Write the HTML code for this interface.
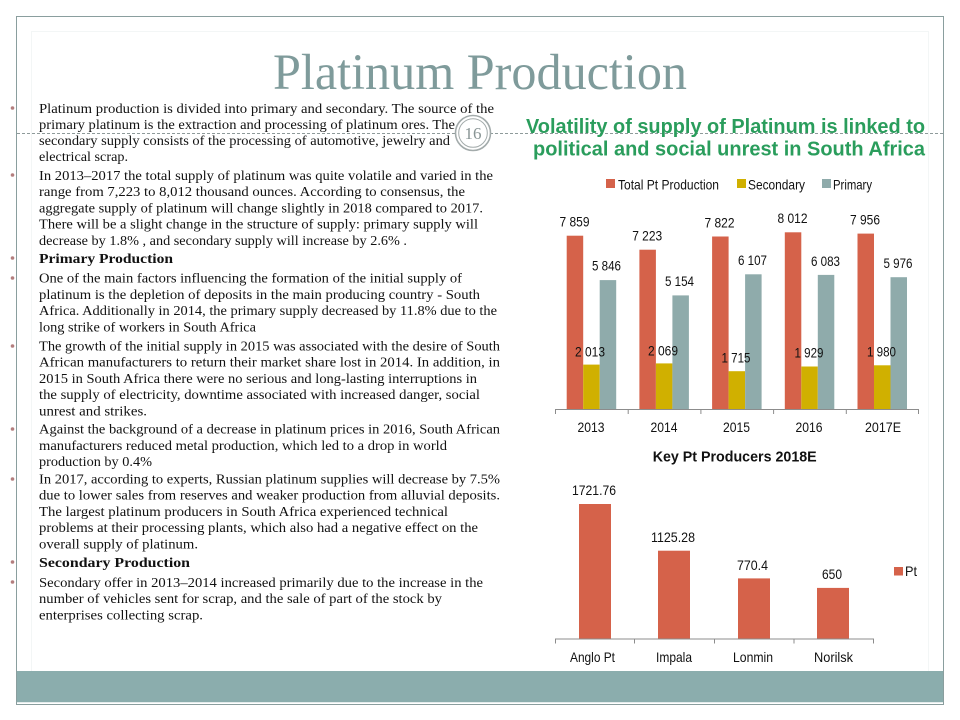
<!DOCTYPE html>
<html>
<head>
<meta charset="utf-8">
<style>
  html,body{margin:0;padding:0;background:#fff;}
  svg{display:block;}
  .body{font-family:"Liberation Serif",serif;font-size:14px;fill:#111;}
  .bold{font-weight:bold;}
  .ch{font-family:"Liberation Sans",Arial,sans-serif;font-size:14px;fill:#111;}
</style>
</head>
<body>
<svg width="960" height="720" viewBox="0 0 960 720" xmlns="http://www.w3.org/2000/svg">
  <rect x="0" y="0" width="960" height="720" fill="#fff"/>
  <!-- frame -->
  <rect x="16.5" y="16.5" width="927" height="688" fill="none" stroke="#8a9e9e" stroke-width="1"/>
  <rect x="31.5" y="31.5" width="897" height="640" fill="none" stroke="#f3f6f6" stroke-width="1"/>
  <!-- bottom bar -->
  <rect x="17" y="671" width="926" height="31" fill="#8badad"/>
  <line x1="17" y1="702.5" x2="943" y2="702.5" stroke="#e4ecec" stroke-width="1"/>

  <!-- Title -->
  <text x="273" y="89" font-family="Liberation Serif, serif" font-size="51" fill="#7f9b9b" textLength="414" lengthAdjust="spacingAndGlyphs">Platinum Production</text>

  <!-- dashed divider -->
  <line x1="17" y1="133.5" x2="456" y2="133.5" stroke="#8e9a9a" stroke-width="1" stroke-dasharray="3,2"/>
  <line x1="490" y1="133.5" x2="943" y2="133.5" stroke="#8e9a9a" stroke-width="1" stroke-dasharray="3,2"/>

  <!-- Left text bullets -->
  <g fill="#b37e7e">
    <circle cx="12.5" cy="108" r="1.8"/>
    <circle cx="12.5" cy="175" r="1.8"/>
    <circle cx="12.5" cy="258" r="1.8"/>
    <circle cx="12.5" cy="278" r="1.8"/>
    <circle cx="12.5" cy="346" r="1.8"/>
    <circle cx="12.5" cy="429" r="1.8"/>
    <circle cx="12.5" cy="479" r="1.8"/>
    <circle cx="12.5" cy="562" r="1.8"/>
    <circle cx="12.5" cy="582" r="1.8"/>
  </g>

  <g class="body">
    <text x="39" y="113" textLength="455" lengthAdjust="spacingAndGlyphs">Platinum production is divided into primary and secondary. The source of the</text>
    <text x="39" y="129" textLength="416" lengthAdjust="spacingAndGlyphs">primary platinum is the extraction and processing of platinum ores. The</text>
    <text x="39" y="145" textLength="411" lengthAdjust="spacingAndGlyphs">secondary supply consists of the processing of automotive, jewelry and</text>
    <text x="39" y="161" textLength="89" lengthAdjust="spacingAndGlyphs">electrical scrap.</text>

    <text x="39" y="180" textLength="454" lengthAdjust="spacingAndGlyphs">In 2013–2017 the total supply of platinum was quite volatile and varied in the</text>
    <text x="39" y="196.2" textLength="426" lengthAdjust="spacingAndGlyphs">range from  7,223 to 8,012 thousand ounces. According to consensus, the</text>
    <text x="39" y="212.4" textLength="444" lengthAdjust="spacingAndGlyphs">aggregate supply of platinum will change slightly in 2018 compared to 2017.</text>
    <text x="39" y="228.6" textLength="439" lengthAdjust="spacingAndGlyphs">There will be a slight change in the structure of supply: primary supply will</text>
    <text x="39" y="244.8" textLength="368" lengthAdjust="spacingAndGlyphs">decrease by 1.8% , and secondary supply will increase by 2.6% .</text>

    <text x="39" y="263" class="bold" textLength="134" lengthAdjust="spacingAndGlyphs">Primary Production</text>

    <text x="39" y="282.7" textLength="423" lengthAdjust="spacingAndGlyphs">One of the main factors  influencing the formation of the initial supply of</text>
    <text x="39" y="298.9" textLength="441" lengthAdjust="spacingAndGlyphs">platinum is the depletion of deposits in the main producing country - South</text>
    <text x="39" y="315.1" textLength="458" lengthAdjust="spacingAndGlyphs">Africa. Additionally in 2014, the primary supply decreased by 11.8% due to the</text>
    <text x="39" y="331.3" textLength="217" lengthAdjust="spacingAndGlyphs">long strike of workers  in South Africa</text>

    <text x="39" y="350.5" textLength="461" lengthAdjust="spacingAndGlyphs">The growth of the initial supply in 2015 was associated with the desire of South</text>
    <text x="39" y="366.7" textLength="461" lengthAdjust="spacingAndGlyphs">African manufacturers to return their market share lost in  2014. In addition, in</text>
    <text x="39" y="382.9" textLength="438" lengthAdjust="spacingAndGlyphs">2015 in  South  Africa  there were no serious and long-lasting interruptions in</text>
    <text x="39" y="399.1" textLength="441" lengthAdjust="spacingAndGlyphs">the supply of electricity, downtime associated with increased danger, social</text>
    <text x="39" y="415.3" textLength="108" lengthAdjust="spacingAndGlyphs">unrest and strikes.</text>

    <text x="39" y="433.7" textLength="461" lengthAdjust="spacingAndGlyphs">Against the background of a decrease in platinum prices in 2016, South African</text>
    <text x="39" y="449.9" textLength="408" lengthAdjust="spacingAndGlyphs">manufacturers reduced metal production, which led to a drop in world</text>
    <text x="39" y="466.1" textLength="113" lengthAdjust="spacingAndGlyphs">production by 0.4%</text>

    <text x="39" y="483.5" textLength="461" lengthAdjust="spacingAndGlyphs">In 2017, according to experts, Russian platinum supplies will decrease by 7.5%</text>
    <text x="39" y="499.7" textLength="461" lengthAdjust="spacingAndGlyphs">due to lower sales from  reserves and weaker production  from alluvial deposits.</text>
    <text x="39" y="515.9" textLength="409" lengthAdjust="spacingAndGlyphs">The largest platinum producers in South  Africa  experienced technical</text>
    <text x="39" y="532.1" textLength="439" lengthAdjust="spacingAndGlyphs">problems at their processing plants, which also had a negative effect on the</text>
    <text x="39" y="548.3" textLength="159" lengthAdjust="spacingAndGlyphs">overall supply of platinum.</text>

    <text x="39" y="567" class="bold" textLength="151" lengthAdjust="spacingAndGlyphs">Secondary Production</text>

    <text x="39" y="587" textLength="444" lengthAdjust="spacingAndGlyphs">Secondary offer in  2013–2014  increased primarily due to the increase in the</text>
    <text x="39" y="603.2" textLength="403" lengthAdjust="spacingAndGlyphs">number of vehicles sent for scrap, and the sale of part of  the stock by</text>
    <text x="39" y="619.4" textLength="164" lengthAdjust="spacingAndGlyphs">enterprises collecting scrap.</text>
  </g>

  <!-- slide number circle -->
  <circle cx="473" cy="133" r="17.5" fill="#fff" stroke="#a3abab" stroke-width="1.6"/>
  <circle cx="473" cy="133" r="14.3" fill="none" stroke="#a3abab" stroke-width="1"/>
  <text x="473" y="139" text-anchor="middle" font-family="Liberation Serif, serif" font-size="17" fill="#889494">16</text>

  <!-- Chart 1 title -->
  <g font-family="Liberation Sans, Arial, sans-serif" font-weight="bold" font-size="20" fill="#2a9d5c">
    <text x="526" y="133" textLength="399" lengthAdjust="spacingAndGlyphs">Volatility of supply of Platinum is linked to</text>
    <text x="533" y="155.5" textLength="392" lengthAdjust="spacingAndGlyphs">political and social unrest in South Africa</text>
  </g>

  <!-- Chart 1 legend -->
  <rect x="606" y="179" width="9" height="9" fill="#d5624a"/>
  <text class="ch" x="618" y="189.5" textLength="101" lengthAdjust="spacingAndGlyphs">Total Pt Production</text>
  <rect x="737" y="179" width="9" height="9" fill="#d0b000"/>
  <text class="ch" x="748" y="189.5" textLength="57" lengthAdjust="spacingAndGlyphs">Secondary</text>
  <rect x="822" y="179" width="9" height="9" fill="#8fabab"/>
  <text class="ch" x="833" y="189.5" textLength="39" lengthAdjust="spacingAndGlyphs">Primary</text>

  <!-- Chart 1 bars: base 409, scale 0.02205 -->
  <g>
    <rect x="566.7" y="235.7" width="16.5" height="173.3" fill="#d5624a"/>
    <rect x="583.2" y="364.6" width="16.5" height="44.4" fill="#d0b000"/>
    <rect x="599.7" y="280.1" width="16.5" height="128.9" fill="#8fabab"/>

    <rect x="639.4" y="249.7" width="16.5" height="159.3" fill="#d5624a"/>
    <rect x="655.9" y="363.4" width="16.5" height="45.6" fill="#d0b000"/>
    <rect x="672.4" y="295.4" width="16.5" height="113.6" fill="#8fabab"/>

    <rect x="712.1" y="236.5" width="16.5" height="172.5" fill="#d5624a"/>
    <rect x="728.6" y="371.2" width="16.5" height="37.8" fill="#d0b000"/>
    <rect x="745.1" y="274.3" width="16.5" height="134.7" fill="#8fabab"/>

    <rect x="784.8" y="232.3" width="16.5" height="176.7" fill="#d5624a"/>
    <rect x="801.3" y="366.5" width="16.5" height="42.5" fill="#d0b000"/>
    <rect x="817.8" y="274.9" width="16.5" height="134.1" fill="#8fabab"/>

    <rect x="857.5" y="233.6" width="16.5" height="175.4" fill="#d5624a"/>
    <rect x="874" y="365.3" width="16.5" height="43.7" fill="#d0b000"/>
    <rect x="890.5" y="277.2" width="16.5" height="131.8" fill="#8fabab"/>
  </g>

  <!-- Chart 1 value labels -->
  <g class="ch" text-anchor="middle">
    <text x="574.5" y="226.7" textLength="30" lengthAdjust="spacingAndGlyphs">7 859</text>
    <text x="590" y="356.5" textLength="30" lengthAdjust="spacingAndGlyphs">2 013</text>
    <text x="606.5" y="270.5" textLength="29" lengthAdjust="spacingAndGlyphs">5 846</text>

    <text x="647.2" y="240.5" textLength="30" lengthAdjust="spacingAndGlyphs">7 223</text>
    <text x="663" y="355.5" textLength="30" lengthAdjust="spacingAndGlyphs">2 069</text>
    <text x="679.5" y="286" textLength="29" lengthAdjust="spacingAndGlyphs">5 154</text>

    <text x="719.5" y="227.5" textLength="30" lengthAdjust="spacingAndGlyphs">7 822</text>
    <text x="736" y="362.5" textLength="29" lengthAdjust="spacingAndGlyphs">1 715</text>
    <text x="752.5" y="265" textLength="29" lengthAdjust="spacingAndGlyphs">6 107</text>

    <text x="792.5" y="223" textLength="30" lengthAdjust="spacingAndGlyphs">8 012</text>
    <text x="809" y="357.5" textLength="29" lengthAdjust="spacingAndGlyphs">1 929</text>
    <text x="825.5" y="266" textLength="29" lengthAdjust="spacingAndGlyphs">6 083</text>

    <text x="865" y="224.5" textLength="30" lengthAdjust="spacingAndGlyphs">7 956</text>
    <text x="881.5" y="356.5" textLength="29" lengthAdjust="spacingAndGlyphs">1 980</text>
    <text x="898" y="268" textLength="29" lengthAdjust="spacingAndGlyphs">5 976</text>
  </g>

  <!-- Chart 1 axis -->
  <g stroke="#8c8c8c" stroke-width="1">
    <line x1="555" y1="409.5" x2="918.5" y2="409.5"/>
    <line x1="555.5" y1="409" x2="555.5" y2="414"/>
    <line x1="628.2" y1="409" x2="628.2" y2="414"/>
    <line x1="700.9" y1="409" x2="700.9" y2="414"/>
    <line x1="773.6" y1="409" x2="773.6" y2="414"/>
    <line x1="846.3" y1="409" x2="846.3" y2="414"/>
    <line x1="918.5" y1="409" x2="918.5" y2="414"/>
  </g>
  <g class="ch" text-anchor="middle">
    <text x="591" y="432" textLength="27" lengthAdjust="spacingAndGlyphs">2013</text>
    <text x="664" y="432" textLength="27" lengthAdjust="spacingAndGlyphs">2014</text>
    <text x="736.5" y="432" textLength="27" lengthAdjust="spacingAndGlyphs">2015</text>
    <text x="809" y="432" textLength="27" lengthAdjust="spacingAndGlyphs">2016</text>
    <text x="883" y="432" textLength="36" lengthAdjust="spacingAndGlyphs">2017E</text>
  </g>

  <!-- Chart 2 -->
  <text x="652.7" y="461.5" font-family="Liberation Sans, Arial, sans-serif" font-weight="bold" font-size="15" fill="#111" textLength="164" lengthAdjust="spacingAndGlyphs">Key Pt Producers 2018E</text>

  <rect x="579" y="504" width="32" height="134.7" fill="#d5624a"/>
  <rect x="658" y="550.7" width="32" height="88" fill="#d5624a"/>
  <rect x="738" y="578.4" width="32" height="60.3" fill="#d5624a"/>
  <rect x="817" y="587.9" width="32" height="50.8" fill="#d5624a"/>

  <g class="ch" text-anchor="middle">
    <text x="594" y="495" textLength="44" lengthAdjust="spacingAndGlyphs">1721.76</text>
    <text x="673" y="542" textLength="44" lengthAdjust="spacingAndGlyphs">1125.28</text>
    <text x="752.5" y="570" textLength="31" lengthAdjust="spacingAndGlyphs">770.4</text>
    <text x="832" y="579" textLength="20" lengthAdjust="spacingAndGlyphs">650</text>
  </g>

  <g stroke="#8c8c8c" stroke-width="1">
    <line x1="555" y1="639" x2="873.5" y2="639"/>
    <line x1="555.5" y1="638.5" x2="555.5" y2="643.5"/>
    <line x1="634.5" y1="638.5" x2="634.5" y2="643.5"/>
    <line x1="714.5" y1="638.5" x2="714.5" y2="643.5"/>
    <line x1="794" y1="638.5" x2="794" y2="643.5"/>
    <line x1="873.5" y1="638.5" x2="873.5" y2="643.5"/>
  </g>
  <g class="ch" text-anchor="middle">
    <text x="592.5" y="662" textLength="45" lengthAdjust="spacingAndGlyphs">Anglo Pt</text>
    <text x="674" y="662" textLength="36" lengthAdjust="spacingAndGlyphs">Impala</text>
    <text x="753" y="662" textLength="40" lengthAdjust="spacingAndGlyphs">Lonmin</text>
    <text x="833.5" y="662" textLength="39" lengthAdjust="spacingAndGlyphs">Norilsk</text>
  </g>

  <rect x="894" y="567" width="9" height="8.5" fill="#d5624a"/>
  <text class="ch" x="905" y="576" textLength="12" lengthAdjust="spacingAndGlyphs">Pt</text>
</svg>
</body>
</html>
